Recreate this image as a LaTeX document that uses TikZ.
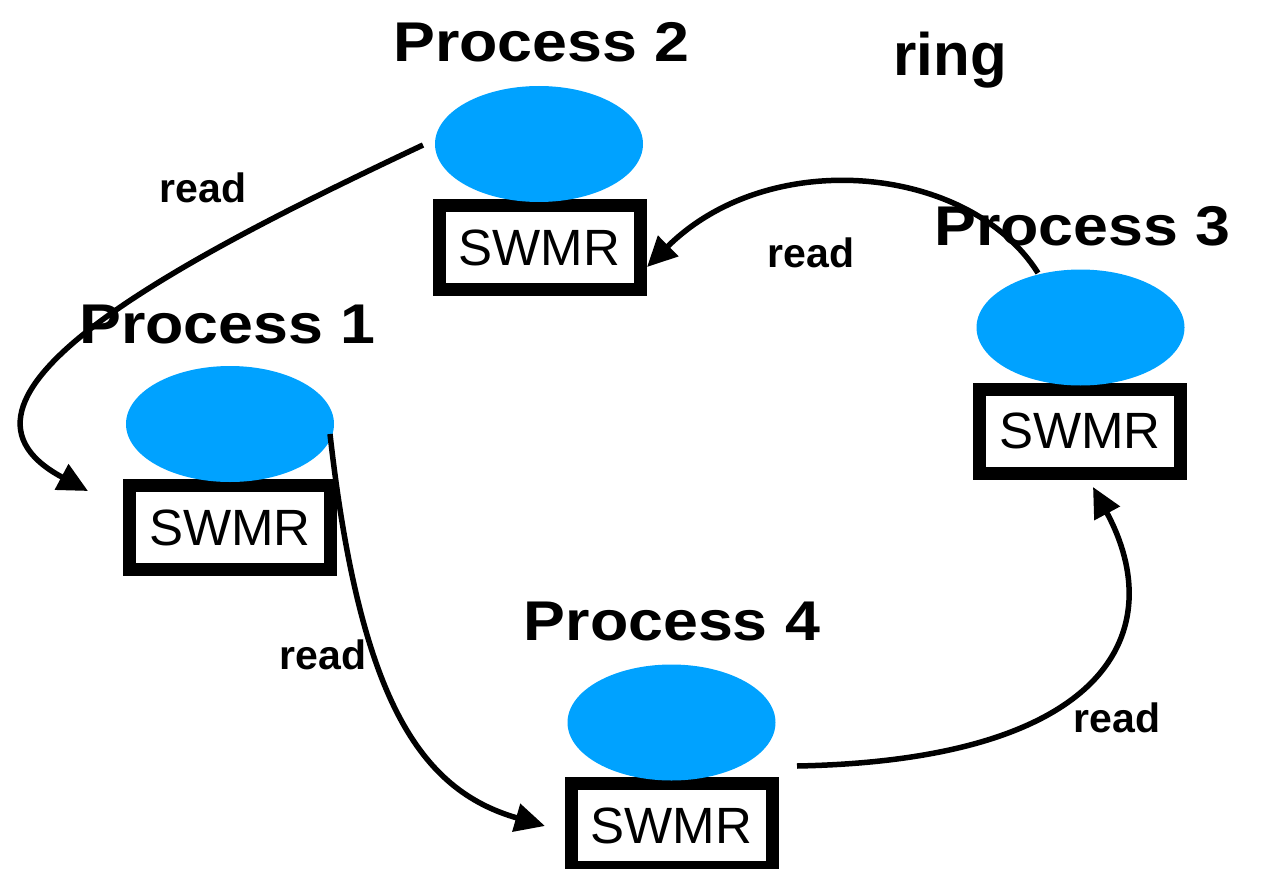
\documentclass[tikz,border=0pt]{standalone}
\usepackage{fontspec}
\setmainfont{Liberation Sans}
\usetikzlibrary{arrows.meta,shapes.geometric}
\definecolor{procblue}{RGB}{0,162,255}
\newcommand{\widetext}[1]{\scalebox{1.12}[1]{#1}}
\begin{document}
\begin{tikzpicture}[x=1pt,y=-1pt,
  proc/.style={ellipse, fill=procblue, inner sep=0pt,
    minimum width=208pt, minimum height=116pt},
  reg/.style={draw=black, line width=13pt, fill=white, inner sep=0pt,
    minimum width=201pt, minimum height=84pt,
    font=\fontsize{51}{55}\selectfont},
  title/.style={anchor=base, inner sep=0pt,
    font=\fontsize{56}{60}\selectfont\bfseries},
  lbl/.style={inner sep=0pt, font=\fontsize{41}{45}\selectfont\bfseries},
  link/.style={line width=5.5pt, -{Triangle[length=30pt,width=28pt]}}]
\useasboundingbox (0,0) rectangle (1263,869);
\clip (0,0) rectangle (1263,869);

% registers (drawn first, the process ellipses overlap their top edge)
\node[reg] (r1) at (230,527.5) {SWMR};
\node[reg] (r2) at (539.5,247.5) {SWMR};
\node[reg] (r3) at (1080,431) {SWMR};
\node[reg] (r4) at (671.5,825.5) {SWMR};

% processes
\node[proc] (e1) at (230,424) {};
\node[proc] (e2) at (539,144) {};
\node[proc] (e3) at (1080.5,327.5) {};
\node[proc] (e4) at (671.5,722.5) {};

% titles
\node[title] (t1) at (227.5,343) {\widetext{Process 1}};
\node[title] (t2) at (541.5,62) {\widetext{Process 2}};
\node[title] (t3) at (1082.5,245) {\widetext{Process 3}};
\node[title] (t4) at (672,640) {\widetext{Process 4}};
\node[anchor=base, inner sep=0pt, font=\fontsize{60}{64}\selectfont\bfseries]
  (ring) at (950,76) {ring};

% edge labels
\node[lbl] (l21) at (203,188) {read};
\node[lbl] (l32) at (811,253) {read};
\node[lbl] (l14) at (323,655) {read};
\node[lbl] (l43) at (1117,718) {read};

% connector ends
\coordinate (s2) at (423,145);
\coordinate (d1) at (88,491);
\coordinate (s1) at (330,434);
\coordinate (d4) at (545,826);
\coordinate (s4) at (797,766);
\coordinate (d3) at (1093,487);
\coordinate (s3) at (1038,273);
\coordinate (d2) at (647,267);

% reads around the ring
\draw[link] (s2) .. controls (200,250) and (-90,396) .. (d1);
\draw[link] (s1) .. controls (360,700) and (420,790) .. (d4);
\draw[link] (s4) .. controls (1110,760) and (1170,630) .. (d3);
\draw[link] (s3) .. controls (970,165) and (770,145) .. (d2);
\end{tikzpicture}
\end{document}
